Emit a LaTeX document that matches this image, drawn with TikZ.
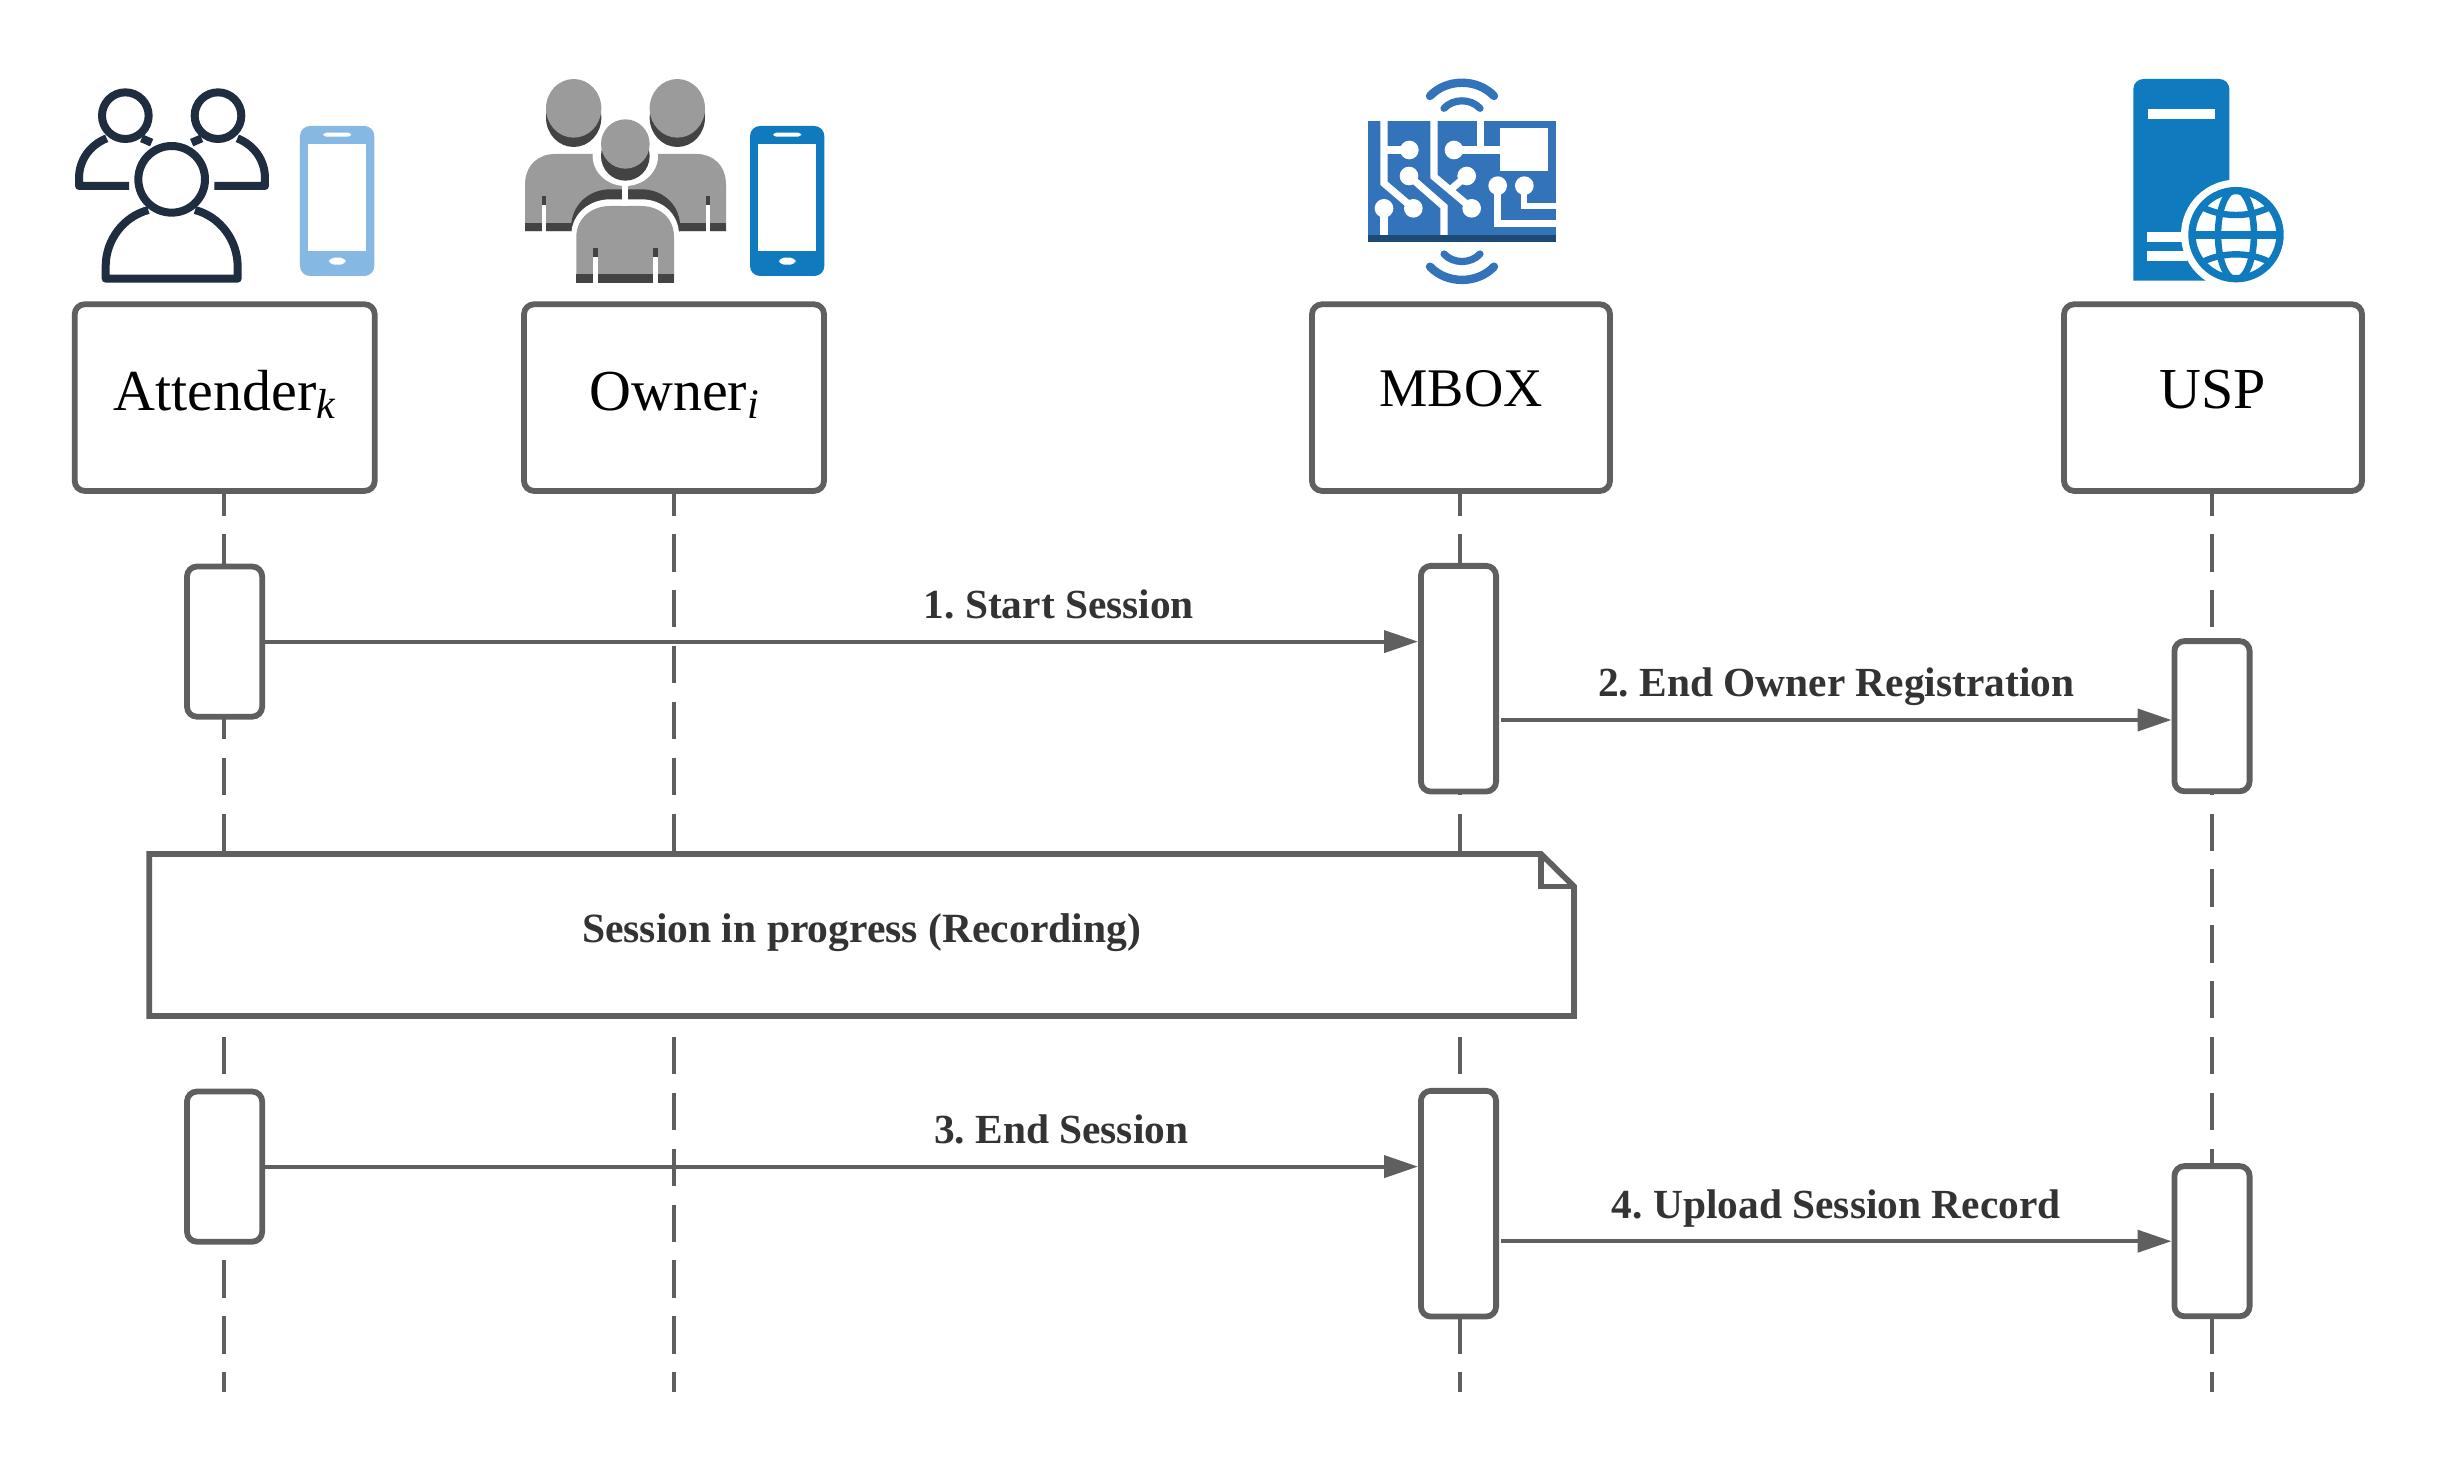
\documentclass[tikz,border=0pt]{standalone}
\usepackage{fontspec}
\setmainfont{Liberation Serif}
\usetikzlibrary{arrows.meta,calc}
\frenchspacing
\definecolor{linegray}{HTML}{5F5F5F}
\definecolor{textgray}{HTML}{333333}
\definecolor{navy}{HTML}{1F2D40}
\definecolor{phonelight}{HTML}{85B8E2}
\definecolor{bluedark}{HTML}{0F7ABD}
\definecolor{boardblue}{HTML}{3273B9}
\definecolor{boarddark}{HTML}{1C4A75}
\definecolor{peoplegray}{HTML}{9B9B9B}
\definecolor{peopledark}{HTML}{434343}
\pgfdeclarelayer{lifelayer}
\pgfdeclarelayer{notelayer}
\pgfsetlayers{lifelayer,notelayer,main}
\tikzset{
  headbox/.style={draw=linegray,fill=white,line width=2.9pt,rounded corners=5pt,inner sep=0pt,
    minimum width=149pt,minimum height=93.3pt,font=\fontsize{29}{30}\selectfont,text depth=0pt},
  actbox/.style={draw=linegray,fill=white,line width=2.9pt,rounded corners=5pt,inner sep=0pt,minimum width=37.6pt},
  lifeline/.style={draw=linegray,line width=2pt,dash pattern=on 18.65pt off 9.28pt,dash phase=7.7pt},
  msg/.style={draw=linegray,line width=2pt,-{Triangle[length=17pt,width=11pt]}},
  msglabel/.style={anchor=base,yshift=11.6pt,text=textgray,font=\fontsize{20.7}{22}\selectfont\bfseries,inner sep=0pt},
  notebox/.style={inner sep=0pt,outer sep=0pt,minimum width=712.4pt,minimum height=81pt,text=textgray,
    font=\fontsize{20.8}{22}\selectfont\bfseries,text height=7.6pt,text depth=0pt},
  notestroke/.style={draw=linegray,fill=white,line width=2.9pt,line join=miter},
  trace/.style={draw=white,line width=3.6pt},
}
\newcommand{\phoneicon}[3]{%
  \begin{scope}[shift={(#1,#2)},scale=1/3]
    \fill[#3,rounded corners=5pt] (720,168) rectangle (943,618);
    \fill[white] (743,222) rectangle (919,542);
    \fill[white,rounded corners=1.5pt] (790,188) rectangle (873,200);
    \fill[white,rounded corners=2.5pt] (807,563) rectangle (857,584);
  \end{scope}}
\begin{document}
\begin{tikzpicture}[x=0.5pt,y=-0.5pt]
\useasboundingbox (0,0) rectangle (2438,1466);

% participants
\node[headbox,minimum width=150pt,text height=12.65pt] (h1) at (224.7,397.6) {Attender{\fontsize{21}{21}\selectfont\raisebox{-4pt}{\textit{k}}}};
\node[headbox,minimum width=150pt,text height=12.65pt] (h2) at (674,397.6) {Owner{\fontsize{21}{21}\selectfont\raisebox{-4pt}{\textit{i}}}};
\node[headbox,text height=9.35pt,font=\fontsize{27.2}{28}\selectfont] (h3) at (1461,397.6) {MBOX};
\node[headbox,text height=10.65pt,font=\fontsize{29}{30}\selectfont] (h4) at (2213,397.6) {USP};

\coordinate (e1) at (224.3,1392);
\coordinate (e2) at (674,1392);
\coordinate (e3) at (1460,1392);
\coordinate (e4) at (2212,1392);
\begin{pgfonlayer}{lifelayer}
  \draw[lifeline] (h1.south -| e1) -- (e1);
  \draw[lifeline] (h2.south -| e2) -- (e2);
  \draw[lifeline] (h3.south -| e3) -- (e3);
  \draw[lifeline] (h4.south -| e4) -- (e4);
\end{pgfonlayer}

% activations
\node[actbox,minimum height=75.1pt] (a1) at (224.6,641.6) {};
\node[actbox,minimum height=112.85pt] (a2) at (1458.5,678.7) {};
\node[actbox,minimum height=75.1pt] (a3) at (2212,716.2) {};
\node[actbox,minimum height=75.1pt] (a4) at (224.6,1166.6) {};
\node[actbox,minimum height=112.85pt] (a5) at (1458.5,1203.7) {};
\node[actbox,minimum height=75.1pt] (a6) at (2212,1241.2) {};

% messages
\draw[msg] (a1.east) -- node[msglabel,pos=.6885] {1. Start Session} (a1.east -| a2.west);
\draw[msg] ([xshift=1pt,yshift=-1.9pt]a3.west -| a2.east) -- node[msglabel,pos=.5] {2. End Owner Registration} ([yshift=-1.9pt]a3.west);
\draw[msg] (a4.east) -- node[msglabel,pos=.6905] {3. End Session} (a4.east -| a5.west);
\draw[msg] ([xshift=1pt]a6.west -| a5.east) -- node[msglabel,pos=.5] {4. Upload Session Record} (a6.west);

% note
\node[notebox] (note) at (861.6,935) {Session in progress (Recording)};
\begin{pgfonlayer}{notelayer}
  \path[notestroke] (note.north west) -- ([xshift=-16.5pt]note.north east) -- ([yshift=-16.25pt]note.north east)
     -- (note.south east) -- (note.south west) -- cycle;
  \draw[linegray,line width=2.75pt] ([xshift=-16.5pt]note.north east) -- ([xshift=-16.5pt,yshift=-16.25pt]note.north east) -- ([yshift=-16.25pt]note.north east);
\end{pgfonlayer}

% attender icon
\begin{scope}[shift={(60,70)},scale=1/3,navy,line width=4pt,line join=round]
  \draw (196,137) circle [radius=70];
  \draw (474,137) circle [radius=70];
  \draw (207,348) -- (57,348) -- (57,325) .. controls (57,270) and (90,225) .. (140,205);
  \draw (245,205) -- (275,218);
  \draw (463,348) -- (615,348) -- (615,325) .. controls (615,270) and (582,225) .. (532,205);
  \draw (425,205) -- (395,218);
  \draw (335,328) circle [radius=100];
  \draw (265,420) .. controls (190,440) and (137,510) .. (137,590) -- (137,626) -- (533,626) -- (533,590) .. controls (533,510) and (480,440) .. (405,420);
\end{scope}
\phoneicon{60}{70}{phonelight}

% owner icon
\begin{scope}[shift={(510,70)},scale=1/3]
  \fill[peoplegray] (45,484) -- (45,345) .. controls (45,285) and (85,252) .. (135,252) -- (560,252) .. controls (608,252) and (648,285) .. (648,345) -- (648,484) -- cycle;
  \fill[peopledark] (45,458) rectangle (648,484);
  \fill[peopledark] (95,378) rectangle (107,405);
  \fill[peopledark] (587,378) rectangle (600,405);
  \fill[white] (95,405) rectangle (107,486);
  \fill[white] (587,405) rectangle (600,486);
  \fill[peopledark] (184,484) -- (184,460) .. controls (190,400) and (240,358) .. (300,358) -- (395,358) .. controls (455,358) and (505,400) .. (510,460) -- (510,484) -- cycle;
  \fill[white] (184,640) -- (184,495) .. controls (184,430) and (240,388) .. (300,388) -- (395,388) .. controls (455,388) and (507,430) .. (507,495) -- (507,640) -- cycle;
  \fill[peoplegray] (199,638) -- (199,500) .. controls (199,445) and (245,408) .. (300,408) -- (392,408) .. controls (450,408) and (492,445) .. (492,500) -- (492,638) -- cycle;
  \fill[peopledark] (199,612) rectangle (492,638);
  \fill[peopledark] (250,535) rectangle (263,560);
  \fill[peopledark] (430,535) rectangle (443,560);
  \fill[white] (250,560) rectangle (263,640);
  \fill[white] (430,560) rectangle (443,640);
  \fill[white] (346,258) ellipse [x radius=98,y radius=90];
  \fill[white] (336,340) rectangle (355,408);
  \fill[peopledark] (191,143) ellipse [x radius=83,y radius=88];
  \fill[peoplegray] (191,115) ellipse [x radius=83,y radius=88];
  \fill[peopledark] (502,143) ellipse [x radius=83,y radius=88];
  \fill[peoplegray] (502,115) ellipse [x radius=83,y radius=88];
  \fill[white] (346,240) ellipse [x radius=84,y radius=100];
  \fill[peopledark] (346,258) ellipse [x radius=73,y radius=74];
  \fill[peoplegray] (346,222) ellipse [x radius=73,y radius=74];
\end{scope}
\phoneicon{510}{70}{bluedark}

% mbox icon
\begin{scope}[shift={(1350,70)},scale=1/3]
  \fill[boardblue] (55,152) rectangle (618,495);
  \fill[boarddark] (55,495) rectangle (618,516);
  \draw[boardblue,line width=4.2pt,line cap=round] (240,78) .. controls (290,25) and (382,25) .. (432,78);
  \draw[boardblue,line width=3.6pt,line cap=round] (282,115) .. controls (310,85) and (362,85) .. (390,115);
  \draw[boardblue,line width=3.6pt,line cap=round] (282,552) .. controls (310,582) and (362,582) .. (390,552);
  \draw[boardblue,line width=4.2pt,line cap=round] (240,590) .. controls (290,643) and (382,643) .. (432,590);
  \draw[trace] (102,152) -- (102,340) -- (190,415);
  \draw[trace] (102,240) -- (178,240);
  \draw[trace] (252,152) -- (252,320) -- (365,415);
  \draw[trace] (300,360) -- (350,318);
  \draw[trace] (177,318) -- (282,410) -- (282,495);
  \draw[trace] (102,415) -- (102,495);
  \draw[trace] (312,240) -- (450,240);
  \draw[trace] (392,152) -- (392,240);
  \draw[trace] (443,347) -- (443,460) -- (618,460);
  \draw[trace,line width=3pt] (523,347) -- (523,407) -- (618,407);
  \fill[white] (450,173) rectangle (595,303);
  \foreach \px/\py in {178/240,190/415,177/318,102/415,312/240,350/318,365/415,443/347,523/347}
    \fill[white] (\px,\py) circle [radius=28];
\end{scope}

% usp icon
\begin{scope}[shift={(2120,70)},scale=1/3]
  \fill[bluedark] (40,632) [rounded corners=5pt] -- (40,27) -- (328,27) [sharp corners] -- (328,632) -- cycle;
  \fill[white] (84,117) rectangle (286,147);
  \fill[white] (82,485) rectangle (200,515);
  \fill[white] (82,543) rectangle (200,573);
  \fill[white] (348,494) circle [radius=165];
  \begin{scope}
    \clip (348,494) circle [radius=135];
    \draw[bluedark,line width=3.3pt] (348,494) ellipse [x radius=54,y radius=135];
    \draw[bluedark,line width=4pt] (210,494) -- (486,494);
    \draw[bluedark,line width=3.2pt] (235,405) .. controls (300,445) and (396,445) .. (461,405);
    \draw[bluedark,line width=3.2pt] (235,583) .. controls (300,543) and (396,543) .. (461,583);
  \end{scope}
  \draw[bluedark,line width=3.7pt] (348,494) circle [radius=132];
\end{scope}
\end{tikzpicture}
\end{document}
